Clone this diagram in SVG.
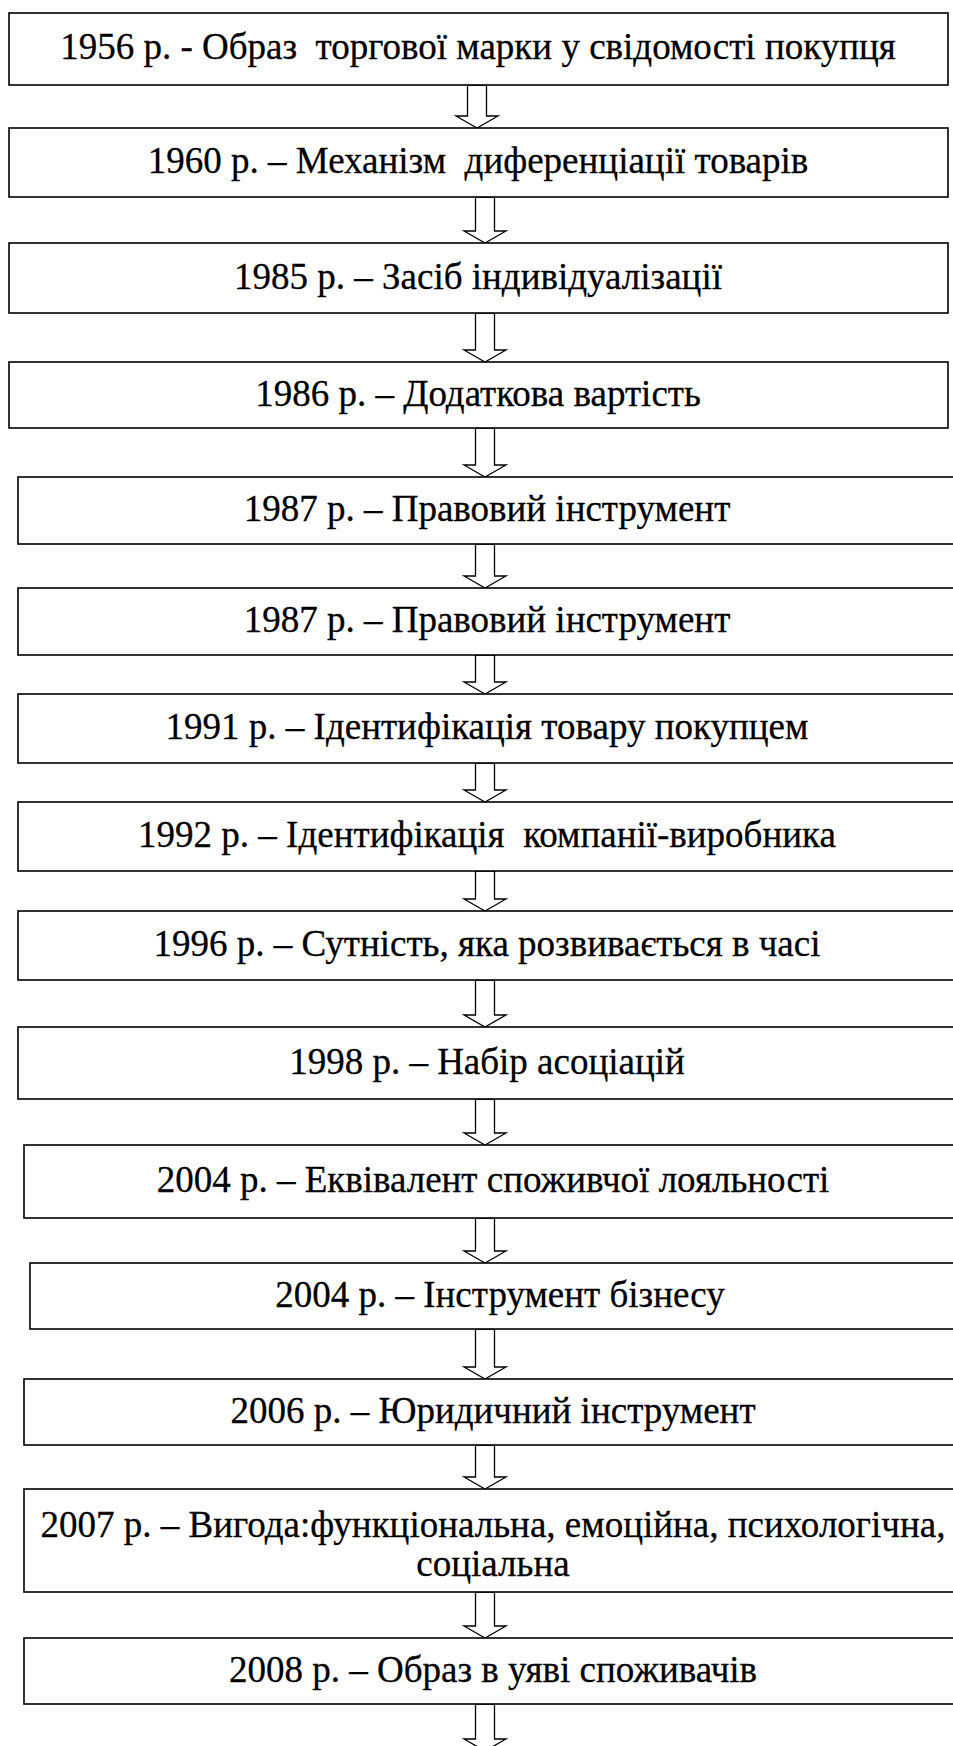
<svg xmlns="http://www.w3.org/2000/svg" width="953" height="1746" viewBox="0 0 953 1746">
<style>
.box{fill:#fff;stroke:#000;stroke-width:1.6}
.arr{fill:#fff;stroke:#000;stroke-width:1.3;stroke-linejoin:miter}
.t{font-size:37px;fill:#000;stroke:#000;stroke-width:0.3;text-anchor:middle;white-space:pre}
</style>
<rect width="953" height="1746" fill="#fff"/>
<g id="connectors">
<polygon class="arr" points="467.5,85 467.5,116 456,116 477,128 498,116 486.5,116 486.5,85"/>
<polygon class="arr" points="475.5,197 475.5,231 464,231 485,243 506,231 494.5,231 494.5,197"/>
<polygon class="arr" points="475.5,313 475.5,350 464,350 485,362 506,350 494.5,350 494.5,313"/>
<polygon class="arr" points="475.5,428 475.5,465 464,465 485,477 506,465 494.5,465 494.5,428"/>
<polygon class="arr" points="475.5,544 475.5,576 464,576 485,588 506,576 494.5,576 494.5,544"/>
<polygon class="arr" points="475.5,655 475.5,682 464,682 485,694 506,682 494.5,682 494.5,655"/>
<polygon class="arr" points="475.5,763 475.5,790 464,790 485,802 506,790 494.5,790 494.5,763"/>
<polygon class="arr" points="475.5,871 475.5,899 464,899 485,911 506,899 494.5,899 494.5,871"/>
<polygon class="arr" points="475.5,980 475.5,1015 464,1015 485,1027 506,1015 494.5,1015 494.5,980"/>
<polygon class="arr" points="475.5,1099 475.5,1133 464,1133 485,1145 506,1133 494.5,1133 494.5,1099"/>
<polygon class="arr" points="475.5,1218 475.5,1251 464,1251 485,1263 506,1251 494.5,1251 494.5,1218"/>
<polygon class="arr" points="475.5,1329 475.5,1367 464,1367 485,1379 506,1367 494.5,1367 494.5,1329"/>
<polygon class="arr" points="475.5,1445 475.5,1477 464,1477 485,1489 506,1477 494.5,1477 494.5,1445"/>
<polygon class="arr" points="475.5,1592 475.5,1626 464,1626 485,1638 506,1626 494.5,1626 494.5,1592"/>
<polygon class="arr" points="475.5,1704 475.5,1739 464,1739 485,1751 506,1739 494.5,1739 494.5,1704"/>
</g>
<g id="n1"><rect class="box" x="9" y="13" width="939" height="72"/><text class="t" font-family="Liberation Serif, Times New Roman, serif" x="478" y="59">1956 р. - Образ  торгової марки у свідомості покупця</text></g>
<g id="n2"><rect class="box" x="9" y="128" width="939" height="69"/><text class="t" font-family="Liberation Serif, Times New Roman, serif" x="478" y="173">1960 р. – Механізм  диференціації товарів</text></g>
<g id="n3"><rect class="box" x="9" y="243" width="939" height="70"/><text class="t" font-family="Liberation Serif, Times New Roman, serif" x="478" y="289">1985 р. – Засіб індивідуалізації</text></g>
<g id="n4"><rect class="box" x="9" y="362" width="939" height="66"/><text class="t" font-family="Liberation Serif, Times New Roman, serif" x="478" y="406">1986 р. – Додаткова вартість</text></g>
<g id="n5"><rect class="box" x="18" y="477" width="940" height="67"/><text class="t" font-family="Liberation Serif, Times New Roman, serif" x="487" y="521">1987 р. – Правовий інструмент</text></g>
<g id="n6"><rect class="box" x="18" y="588" width="940" height="67"/><text class="t" font-family="Liberation Serif, Times New Roman, serif" x="487" y="632">1987 р. – Правовий інструмент</text></g>
<g id="n7"><rect class="box" x="18" y="694" width="940" height="69"/><text class="t" font-family="Liberation Serif, Times New Roman, serif" x="487" y="739">1991 р. – Ідентифікація товару покупцем</text></g>
<g id="n8"><rect class="box" x="18" y="802" width="940" height="69"/><text class="t" font-family="Liberation Serif, Times New Roman, serif" x="487" y="847">1992 р. – Ідентифікація  компанії-виробника</text></g>
<g id="n9"><rect class="box" x="18" y="911" width="940" height="69"/><text class="t" font-family="Liberation Serif, Times New Roman, serif" x="487" y="956">1996 р. – Сутність, яка розвивається в часі</text></g>
<g id="n10"><rect class="box" x="18" y="1027" width="940" height="72"/><text class="t" font-family="Liberation Serif, Times New Roman, serif" x="487" y="1074">1998 р. – Набір асоціацій</text></g>
<g id="n11"><rect class="box" x="24" y="1145" width="940" height="73"/><text class="t" font-family="Liberation Serif, Times New Roman, serif" x="493" y="1192">2004 р. – Еквівалент споживчої лояльності</text></g>
<g id="n12"><rect class="box" x="30" y="1263" width="945" height="66"/><text class="t" font-family="Liberation Serif, Times New Roman, serif" x="500" y="1307">2004 р. – Інструмент бізнесу</text></g>
<g id="n13"><rect class="box" x="24" y="1379" width="940" height="66"/><text class="t" font-family="Liberation Serif, Times New Roman, serif" x="493" y="1423">2006 р. – Юридичний інструмент</text></g>
<g id="n14"><rect class="box" x="24" y="1489" width="940" height="103"/><text class="t" font-family="Liberation Serif, Times New Roman, serif" x="493" y="1537">2007 р. – Вигода:функціональна, емоційна, психологічна,</text><text class="t" font-family="Liberation Serif, Times New Roman, serif" x="493" y="1576">соціальна</text></g>
<g id="n15"><rect class="box" x="24" y="1638" width="940" height="66"/><text class="t" font-family="Liberation Serif, Times New Roman, serif" x="493" y="1682">2008 р. – Образ в уяві споживачів</text></g>
</svg>
